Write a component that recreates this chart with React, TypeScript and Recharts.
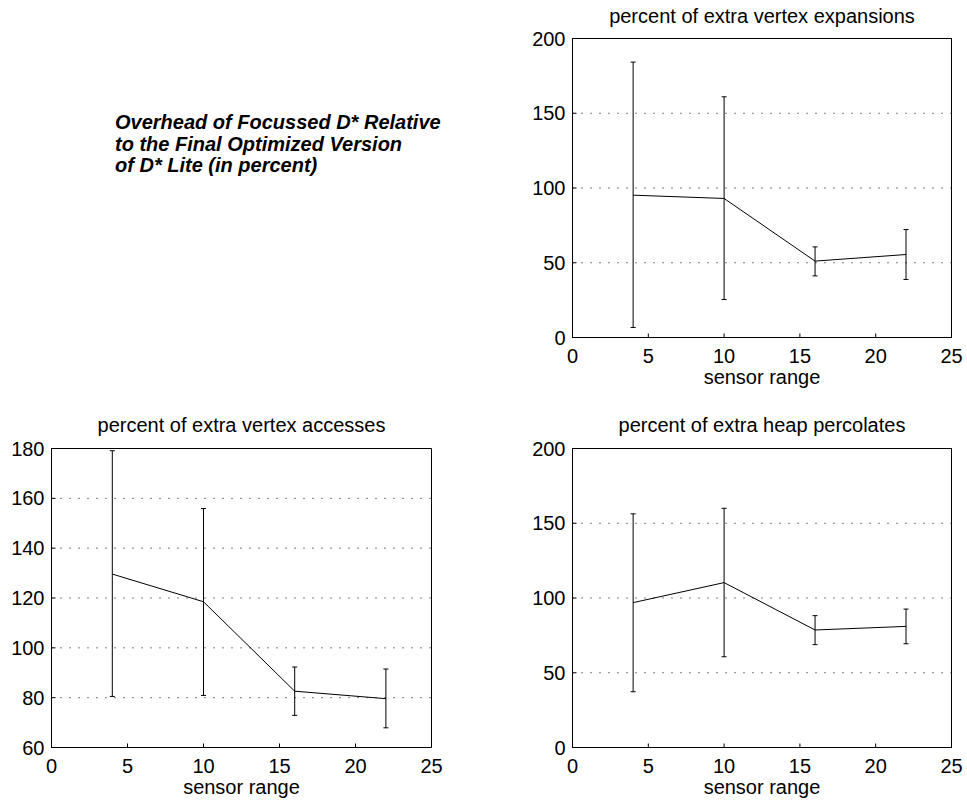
import React from 'react';
import { LineChart, Line, XAxis, YAxis, CartesianGrid, ErrorBar, Label } from 'recharts';

// sensor ranges used in the experiment
const sensorRange = [4, 10, 16, 22];
const xTicks = [0, 5, 10, 15, 20, 25];

// percent of extra vertex expansions
const expansionsMean = [95.2, 93.0, 51.1, 55.5];
const expansionsLow = [6.7, 25.4, 41.2, 38.8];
const expansionsHigh = [184.2, 161.0, 60.6, 72.2];

// percent of extra vertex accesses
const accessesMean = [129.6, 118.5, 82.6, 79.6];
const accessesLow = [80.5, 80.9, 72.9, 67.9];
const accessesHigh = [179.1, 155.9, 92.3, 91.5];

// percent of extra heap percolates
const percolatesMean = [96.9, 110.3, 78.6, 81.0];
const percolatesLow = [37.3, 60.7, 68.8, 69.4];
const percolatesHigh = [156.3, 160.0, 88.2, 92.6];

const ticks0to200 = [0, 50, 100, 150, 200];
const ticks60to180 = [60, 80, 100, 120, 140, 160, 180];

const FONT = '"Liberation Sans", Arial, Helvetica, sans-serif';
const tickStyle = { fill: '#000', fontSize: 20, fontFamily: FONT };

type PanelProps = {
  title: string;
  mean: number[];
  low: number[];
  high: number[];
  yDomain: [number, number];
  yTicks: number[];
  left: number;
  top: number;
  width: number;
  height: number;
  margin: { top: number; right: number; bottom: number; left: number };
  titleTop: number;
};

const Panel = ({ title, mean, low, high, yDomain, yTicks, left, top, width, height, margin, titleTop }: PanelProps) => {
  const data = sensorRange.map((x, i) => ({
    x,
    y: mean[i],
    err: [mean[i] - low[i], high[i] - mean[i]],
  }));
  const plotLeft = margin.left + 40;
  const plotRight = width - margin.right - 1;

  return (
    <div style={{ position: 'absolute', left, top, width, height }}>
      <div
        style={{
          position: 'absolute',
          left: plotLeft - 60,
          width: plotRight - plotLeft + 120,
          top: titleTop,
          textAlign: 'center',
          fontFamily: FONT,
          fontSize: 20,
          lineHeight: '20px',
          color: '#000',
          whiteSpace: 'nowrap',
        }}
      >
        {title}
      </div>
      <LineChart width={width} height={height} data={data} margin={margin}>
        <CartesianGrid horizontal vertical={false} stroke="#000" strokeDasharray="1 8" />
        <XAxis
          dataKey="x"
          type="number"
          domain={[0, 25]}
          ticks={xTicks}
          height={46}
          tickSize={-4}
          tickMargin={15}
          tick={tickStyle}
          stroke="#000"
          interval={0}
        >
          <Label value="sensor range" position="insideBottom" offset={0} fill="#000" fontSize={20} fontFamily={FONT} />
        </XAxis>
        {/* top edge of the box, with inward ticks */}
        <XAxis
          xAxisId="top"
          orientation="top"
          type="number"
          domain={[0, 25]}
          ticks={xTicks}
          height={1}
          tickSize={-4}
          tick={false}
          stroke="#000"
          interval={0}
          allowDataOverflow
        />
        <YAxis
          type="number"
          domain={yDomain}
          ticks={yTicks}
          width={40}
          tickSize={-4}
          tickMargin={11}
          tick={tickStyle}
          stroke="#000"
          interval={0}
        />
        {/* right edge of the box, with inward ticks */}
        <YAxis
          yAxisId="right"
          orientation="right"
          type="number"
          domain={yDomain}
          ticks={yTicks}
          width={1}
          tickSize={-4}
          tick={false}
          stroke="#000"
          interval={0}
          allowDataOverflow
        />
        <Line
          type="linear"
          dataKey="y"
          stroke="#000"
          strokeWidth={1}
          dot={false}
          isAnimationActive={false}
        >
          <ErrorBar dataKey="err" direction="y" width={2.5} stroke="#000" strokeWidth={1} />
        </Line>
      </LineChart>
    </div>
  );
};

const App = () => {
  return (
    <div style={{ position: 'absolute', left: 0, top: 0, width: 967, height: 801, background: '#fff' }}>
      <div
        style={{
          position: 'absolute',
          left: 115,
          top: 112,
          fontFamily: FONT,
          fontSize: 20,
          lineHeight: '21.5px',
          fontWeight: 'bold',
          fontStyle: 'italic',
          color: '#000',
          whiteSpace: 'nowrap',
        }}
      >
        Overhead of Focussed D* Relative
        <br />
        to the Final Optimized Version
        <br />
        of D* Lite (in percent)
      </div>
      <Panel
        title="percent of extra vertex expansions"
        mean={expansionsMean}
        low={expansionsLow}
        high={expansionsHigh}
        yDomain={[0, 200]}
        yTicks={ticks0to200}
        left={500}
        top={0}
        width={467}
        height={400}
        margin={{ top: 37.5, right: 14.5, bottom: 16.5, left: 32.5 }}
        titleTop={6}
      />
      <Panel
        title="percent of extra vertex accesses"
        mean={accessesMean}
        low={accessesLow}
        high={accessesHigh}
        yDomain={[60, 180]}
        yTicks={ticks60to180}
        left={0}
        top={400}
        width={480}
        height={401}
        margin={{ top: 47.5, right: 47.5, bottom: 7.5, left: 11.5 }}
        titleTop={15}
      />
      <Panel
        title="percent of extra heap percolates"
        mean={percolatesMean}
        low={percolatesLow}
        high={percolatesHigh}
        yDomain={[0, 200]}
        yTicks={ticks0to200}
        left={500}
        top={400}
        width={467}
        height={401}
        margin={{ top: 47.5, right: 14.5, bottom: 7.5, left: 32.5 }}
        titleTop={15}
      />
    </div>
  );
};

export default App;
